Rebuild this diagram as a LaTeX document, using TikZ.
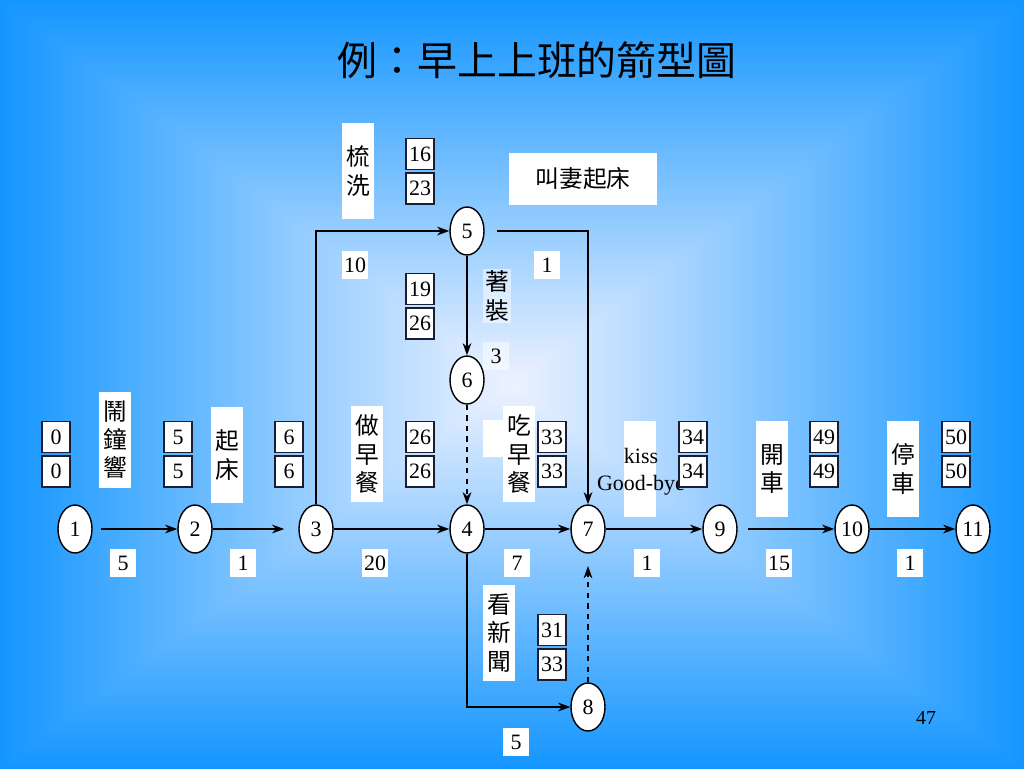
\documentclass[tikz,border=0pt]{standalone}
\usepackage{fontspec}
\setmainfont{Liberation Serif}
\newfontfamily\cjk{Noto Sans CJK TC}
\usetikzlibrary{arrows.meta,positioning,shapes.geometric}
\definecolor{edgeblue}{RGB}{20,150,255}
\definecolor{midblue}{RGB}{150,195,255}
\definecolor{centerblue}{RGB}{238,242,255}
\definecolor{boxline}{RGB}{25,30,50}

\begin{document}
\begin{tikzpicture}[x=0.02cm,y=-0.02cm,
  font=\fontsize{12.5}{15}\selectfont,
  ev/.style={draw, ellipse, fill=white, line width=0.8pt, minimum width=0.68cm, minimum height=0.96cm, inner sep=0pt},
  tbox/.style={draw=boxline, fill=white, line width=1pt, minimum width=0.56cm, minimum height=0.62cm, inner sep=0pt},
  dur/.style={fill=white, minimum width=0.52cm, minimum height=0.56cm, inner sep=1pt},
  lbox/.style={fill=white, minimum width=0.64cm, minimum height=1.92cm, inner sep=0pt, align=center, font=\cjk\fontsize{13.5}{16}\selectfont},
  arr/.style={line width=0.8pt, -{Stealth[length=7pt,width=5pt]}}]
\useasboundingbox (0,0) rectangle (1024,768);
\coordinate (c) at (512,384);
\shade[inner color=centerblue, outer color=edgeblue] (0,0) rectangle (1024,768);
\shade[top color=edgeblue, middle color=midblue, bottom color=centerblue] (0,0) -- (1024,0) -- (c) -- cycle;
\shade[top color=centerblue, middle color=midblue, bottom color=edgeblue] (0,768) -- (1024,768) -- (c) -- cycle;
\shade[left color=edgeblue, middle color=midblue, right color=centerblue] (0,0) -- (0,768) -- (c) -- cycle;
\shade[left color=centerblue, middle color=midblue, right color=edgeblue] (1024,0) -- (1024,768) -- (c) -- cycle;

\node (title) at (537,60) {\cjk\fontsize{22.7}{26}\selectfont 例：早上上班的箭型圖};
\node (page) at (926,718) {\fontsize{11.3}{13}\selectfont 47};

\node[ev] (n1) at (75,529) {1};
\node[ev] (n2) at (195,529) {2};
\node[ev] (n3) at (316,529) {3};
\node[ev] (n4) at (467,529) {4};
\node[ev] (n5) at (467,231) {5};
\node[ev] (n6) at (467,380) {6};
\node[ev] (n7) at (588,529) {7};
\node[ev] (n8) at (588,707) {8};
\node[ev] (n9) at (720,529) {9};
\node[ev] (n10) at (852,529) {10};
\node[ev] (n11) at (973,529) {11};

\node[lbox] (a12) at (115,440) {鬧\\鐘\\響};
\node[lbox] (a23) at (227,455) {起\\床};
\node[lbox] (a35) at (358,171) {梳\\洗};
\node[fill=white, minimum width=2.96cm, minimum height=1.04cm, font=\cjk\fontsize{13.5}{16}\selectfont] (a57) at (583,179) {叫妻起床};
\node[fill=white, fill opacity=0.5, text opacity=1, inner sep=1pt, align=center, font=\cjk\fontsize{13.5}{16}\selectfont] (a56) at (497,296) {著\\裝};
\node[lbox] (a34) at (367,454) {做\\早\\餐};
\fill[white] (483,420) rectangle (503,457);
\node[lbox] (a47) at (519,454) {吃\\早\\餐};
\node[lbox] (a79) at (640,469) {};
\node[align=center, font=\fontsize{12.5}{15.5}\selectfont] (kiss) at (641,472) {kiss\\Good-bye};
\node[lbox] (a48) at (499,633) {看\\新\\聞};
\node[lbox] (a910) at (772,469) {開\\車};
\node[lbox] (a1011) at (903,469) {停\\車};

\node[dur] (d12) at (123,563) {5};
\node[dur] (d23) at (243,563) {1};
\node[dur] (d34) at (375,563) {20};
\node[dur] (d47) at (517,563) {7};
\node[dur] (d79) at (647,563) {1};
\node[dur] (d910) at (779,563) {15};
\node[dur] (d1011) at (910,563) {1};
\node[dur] (d35) at (355,265) {10};
\node[dur] (d57) at (547,265) {1};
\node[dur, fill opacity=0.5, text opacity=1] (d56) at (496,356) {3};
\node[dur] (d48) at (516,742) {5};

\node[tbox] (t1a) at (56,437) {0};
\node[tbox, below=1pt of t1a] (t1b) {0};
\node[tbox] (t2a) at (178,437) {5};
\node[tbox, below=1pt of t2a] (t2b) {5};
\node[tbox] (t3a) at (289,437) {6};
\node[tbox, below=1pt of t3a] (t3b) {6};
\node[tbox] (t4a) at (420,437) {26};
\node[tbox, below=1pt of t4a] (t4b) {26};
\node[tbox] (t5a) at (420,154) {16};
\node[tbox, below=1pt of t5a] (t5b) {23};
\node[tbox] (t6a) at (420,289) {19};
\node[tbox, below=1pt of t6a] (t6b) {26};
\node[tbox] (t7a) at (552,437) {33};
\node[tbox, below=1pt of t7a] (t7b) {33};
\node[tbox] (t8a) at (552,630) {31};
\node[tbox, below=1pt of t8a] (t8b) {33};
\node[tbox] (t9a) at (693,437) {34};
\node[tbox, below=1pt of t9a] (t9b) {34};
\node[tbox] (t10a) at (824,437) {49};
\node[tbox, below=1pt of t10a] (t10b) {49};
\node[tbox] (t11a) at (956,437) {50};
\node[tbox, below=1pt of t11a] (t11b) {50};

\draw[arr, shorten <=5pt] (n1) -- (n2);
\draw[arr, shorten >=8pt] (n2) -- (n3);
\draw[arr] (n3) -- (n4);
\draw[arr] (n4) -- (n7);
\draw[arr] (n7) -- (n9);
\draw[arr, shorten <=6pt] (n9) -- (n10);
\draw[arr] (n10) -- (n11);
\draw[arr] (n3.north) |- (n5);
\draw[arr, shorten <=7pt] (n5) -| (n7);
\draw[arr] (n5) -- (n6);
\draw[arr, dashed] (n6) -- (n4);
\draw[arr] (n4) |- (n8);
\draw[arr, dashed, shorten >=7pt] (n8) -- (n7);
\end{tikzpicture}
\end{document}
